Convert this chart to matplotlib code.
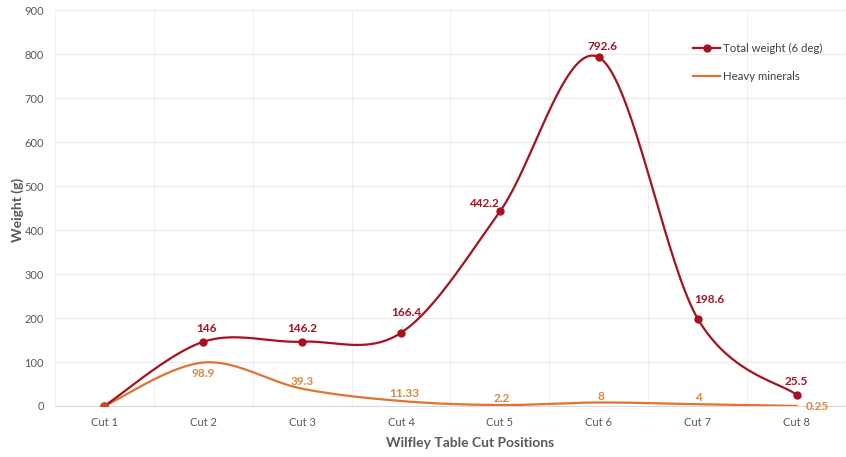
import matplotlib
matplotlib.use('Agg')

import matplotlib.pyplot as plt
import numpy as np

# 数据
cuts = ['Cut 1', 'Cut 2', 'Cut 3', 'Cut 4', 'Cut 5', 'Cut 6', 'Cut 7', 'Cut 8']
total_weight = [0, 146, 146.2, 166.4, 442.2, 792.6, 198.6, 25.5]
heavy_minerals = [0, 98.9, 39.3, 11.33, 2.2, 8, 4, 0.25]
total_labels = ['', '146', '146.2', '166.4', '442.2', '792.6', '198.6', '25.5']
heavy_labels = ['', '98.9', '39.3', '11.33', '2.2', '8', '4', '0.25']

red = '#A8111F'
orange = '#DE7430'
orange_txt = '#E0863F'

plt.rcParams['font.family'] = ['Lato', 'DejaVu Sans']


def smooth(x, y, n=40):
    # Excel 风格平滑线（Catmull-Rom 贝塞尔）
    x = np.asarray(x, float)
    y = np.asarray(y, float)
    px = np.concatenate([[x[0]], x, [x[-1]]])
    py = np.concatenate([[y[0]], y, [y[-1]]])
    xs, ys = [], []
    t = np.linspace(0, 1, n)
    for i in range(1, len(px) - 2):
        p0 = np.array([px[i], py[i]])
        p3 = np.array([px[i + 1], py[i + 1]])
        p1 = p0 + (np.array([px[i + 1], py[i + 1]]) - np.array([px[i - 1], py[i - 1]])) / 6
        p2 = p3 - (np.array([px[i + 2], py[i + 2]]) - np.array([px[i], py[i]])) / 6
        b = ((1 - t) ** 3)[:, None] * p0 + (3 * (1 - t) ** 2 * t)[:, None] * p1 \
            + (3 * (1 - t) * t ** 2)[:, None] * p2 + (t ** 3)[:, None] * p3
        xs.extend(b[:, 0])
        ys.extend(b[:, 1])
    return np.array(xs), np.array(ys)


fig = plt.figure(figsize=(8.46, 4.57), dpi=100)
ax = fig.add_axes([0.065, 0.1116, 0.935, 0.8664])

x = np.arange(len(cuts))

sx, sy = smooth(x, heavy_minerals)
ax.plot(sx, sy, color=orange, linewidth=1.6, zorder=3)
sx, sy = smooth(x, total_weight)
ax.plot(sx, sy, color=red, linewidth=1.6, zorder=4)
ax.plot(x, total_weight, 'o', color=red, markersize=5, zorder=5)
ax.plot(x[0], heavy_minerals[0], 'o', color='#D2461A', markersize=5, zorder=6)

# 图例
ax.plot([], [], color=red, linewidth=1.6, marker='o', markersize=5, label='Total weight (6 deg)')
ax.plot([], [], color=orange, linewidth=1.6, label='Heavy minerals')
ax.legend(loc='upper left', bbox_to_anchor=(693 / 846, 1 - 43 / 457), bbox_transform=fig.transFigure,
          frameon=False, fontsize=8.2, labelcolor='#404040', handlelength=2.4,
          handletextpad=0.25, labelspacing=1.45, borderpad=0, borderaxespad=0)

# 数据标签 - 总重量（像素偏移）
t_off = {1: (3, 13), 2: (0, 13), 3: (5, 20), 4: (-16, 8), 5: (4, 11), 6: (12, 19), 7: (0, 13)}
for i, lab in enumerate(total_labels):
    if not lab:
        continue
    dx, dy = t_off[i]
    arrow = None
    if i in (3, 6):
        arrow = dict(arrowstyle='-', color='#CFCFCF', lw=0.7, shrinkA=4, shrinkB=3)
    ax.annotate(lab, (x[i], total_weight[i]), xytext=(dx, dy), textcoords='offset pixels',
                ha='center', va='center', fontsize=8.5, fontweight='bold', color=red,
                arrowprops=arrow, zorder=7)

# 数据标签 - 重矿物
h_off = {1: (0, -11), 2: (0, 7), 3: (3, 8), 4: (2, 7), 5: (2, 6), 6: (1, 7)}
for i, lab in enumerate(heavy_labels):
    if not lab:
        continue
    if i == 7:
        ax.annotate(lab, (x[i], heavy_minerals[i]), xytext=(9, -1), textcoords='offset pixels',
                    ha='left', va='center', fontsize=8.5, fontweight='bold', color=orange_txt)
        continue
    dx, dy = h_off[i]
    ax.annotate(lab, (x[i], heavy_minerals[i]), xytext=(dx, dy), textcoords='offset pixels',
                ha='center', va='center', fontsize=8.5, fontweight='bold', color=orange_txt)

# 坐标轴
ax.set_xlim(-0.5, 7.4)
ax.set_ylim(0, 900)
ax.set_yticks(np.arange(0, 901, 100))
ax.set_xticks(x)
ax.set_xticklabels(cuts)
ax.set_xticks(np.arange(-0.5, 7.6, 1), minor=True)
ax.tick_params(axis='both', which='both', length=0, labelsize=8, colors='#595959')
ax.tick_params(axis='y', pad=8)
ax.tick_params(axis='x', pad=8)
ax.grid(True, axis='y', color='#EBEBEB', linewidth=0.8)
ax.grid(True, axis='x', which='minor', color='#F0F0F0', linewidth=0.8)
for s in ['top', 'right', 'left']:
    ax.spines[s].set_visible(False)
ax.spines['bottom'].set_color('#D9D9D9')

ax.set_ylabel('Weight (g)', fontsize=10, fontweight='bold', color='#595959')
ax.yaxis.set_label_coords(-0.039, 0.495)
ax.set_xlabel('Wilfley Table Cut Positions', fontsize=10, fontweight='bold', color='#595959')
ax.xaxis.set_label_coords(0.525, -0.078)

fig.savefig('out.png', dpi=100)
